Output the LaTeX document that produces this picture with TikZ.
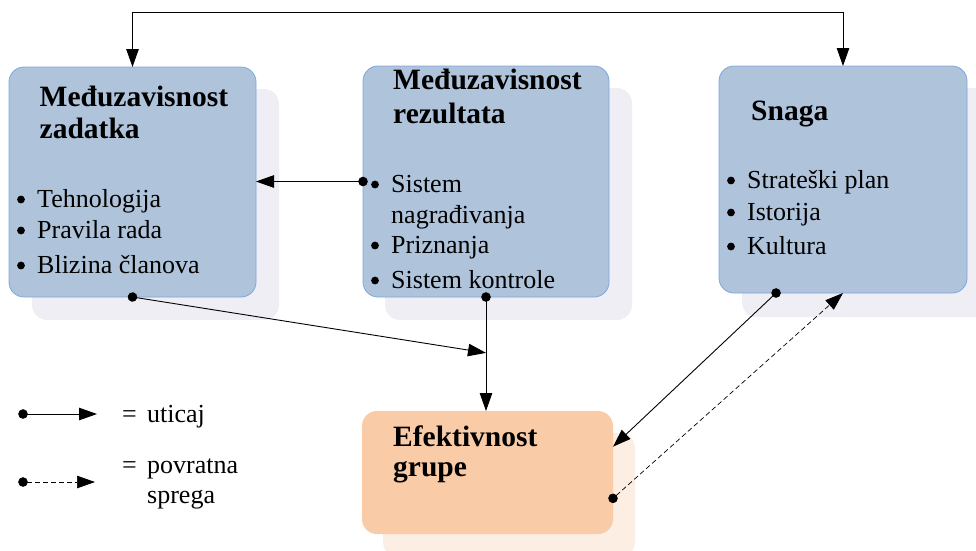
\documentclass[tikz,border=0pt]{standalone}
\usepackage{fontspec}
\setmainfont{Liberation Serif}
\usetikzlibrary{arrows.meta,calc}

\definecolor{boxblue}{HTML}{AFC3DB}
\definecolor{boxedge}{HTML}{7EA6DE}
\definecolor{shadowgray}{HTML}{EFEEF4}
\definecolor{boxorange}{HTML}{F9CBA7}
\definecolor{shadoworange}{HTML}{FDEEE3}

\newcommand{\titlefont}{\fontsize{29.5pt}{33pt}\bfseries\selectfont}
\newcommand{\bodyfont}{\fontsize{26pt}{30pt}\selectfont}

\tikzset{
  panel/.style n args={2}{rounded corners=15pt, inner sep=0pt, outer sep=0pt,
    minimum width=#1pt, minimum height=#2pt},
  bluebox/.style={fill=boxblue, draw=boxedge, line width=0.8pt},
  orangebox/.style={fill=boxorange},
  greyshade/.style={fill=shadowgray},
  orangeshade/.style={fill=shadoworange},
  heading/.style={anchor=base west, inner sep=0pt, font=\titlefont},
  entry/.style={anchor=base west, inner sep=0pt, font=\bodyfont},
  link/.style={line width=0.9pt, -{Triangle[length=18pt,width=12.5pt]}},
  twoway/.style={line width=0.9pt, {Triangle[length=18pt,width=12.5pt]}-{Triangle[length=18pt,width=12.5pt]}},
  dotlink/.style={line width=0.9pt, {Circle[length=9.5pt]}-{Triangle[length=18pt,width=12.5pt]}, shorten <=-4.75pt},
  feedback/.style={dotlink, dash pattern=on 5pt off 3pt, line width=0.7pt}
}

\begin{document}
\begin{tikzpicture}[x=1pt,y=-1pt]
\useasboundingbox (0,0) rectangle (976,550);

% shadows behind the panels
\node[panel={247}{231}, greyshade]   (s1) at (155.5,204.5) {};
\node[panel={247}{232}, greyshade]   (s2) at (508.5,204) {};
\node[panel={248}{229}, greyshade]   (s3) at (866,202.5) {};
\node[panel={252}{124}, orangeshade] (s4) at (509,495) {};

% panels
\node[panel={247}{230}, bluebox]   (b1) at (132.5,182) {};
\node[panel={246}{231}, bluebox]   (b2) at (486,181.5) {};
\node[panel={248}{227}, bluebox]   (b3) at (843,179.5) {};
\node[panel={251}{123}, orangebox] (b4) at (487.5,472.5) {};

% task interdependence
\node[heading] (h1a) at (39.5,106) {Međuzavisnost};
\node[heading] (h1b) at (39.5,138) {zadatka};
\node[entry] (e1a) at (37,207) {Tehnologija};
\node[entry] (e1b) at (37,238) {Pravila rada};
\node[entry] (e1c) at (37,273) {Blizina članova};

% outcome interdependence
\node[heading] (h2a) at (393,89) {Međuzavisnost};
\node[heading] (h2b) at (393,123) {rezultata};
\node[entry] (e2a) at (391,192) {Sistem};
\node[entry] (e2b) at (391,223) {nagrađivanja};
\node[entry] (e2c) at (391,253) {Priznanja};
\node[entry] (e2d) at (391,288) {Sistem kontrole};

% strength
\node[heading] (h3a) at (751,120) {Snaga};
\node[entry] (e3a) at (747,188) {Strateški plan};
\node[entry] (e3b) at (747,220) {Istorija};
\node[entry] (e3c) at (747,254) {Kultura};

% list bullets
\foreach \item in {e1a,e1b,e1c,e2a,e2c,e2d,e3a,e3b,e3c}
  \fill ($(\item.base west)+(-16,-7.5)$) circle[radius=3.9];

% group effectiveness
\node[heading] (h4a) at (393,446) {Efektivnost};
\node[heading] (h4b) at (393,476) {grupe};

% connectors
\draw[twoway] (b1.north) -- ++(0,-55) -| (b3.north);
\draw[dotlink] (b2.west) -- (b2.west -| b1.east);
\coordinate (join) at ($(b2.south)!0.49!(b2.south |- b4.north)$);
\draw[dotlink] (b1.south) -- (join);
\draw[dotlink] (b2.south) -- (b2.south |- b4.north);
\draw[dotlink] ($(b3.south west)!0.23!(b3.south east)$) -- ($(b4.north east)!0.29!(b4.south east)$);
\draw[feedback] ($(b4.north east)!0.71!(b4.south east)$) -- (b3.south);

% legend
\coordinate (l1s) at (23,414);
\coordinate (l1e) at (97,414);
\coordinate (l2s) at (23,482);
\coordinate (l2e) at (95,482);
\draw[dotlink] (l1s) -- (l1e);
\draw[feedback] (l2s) -- (l2e);
\node[entry] (g1) at (122,422) {\makebox[25pt][l]{=}uticaj};
\node[entry] (g2) at (122,473) {\makebox[25pt][l]{=}povratna};
\node[entry] (g3) at (147,503) {sprega};
\end{tikzpicture}
\end{document}
